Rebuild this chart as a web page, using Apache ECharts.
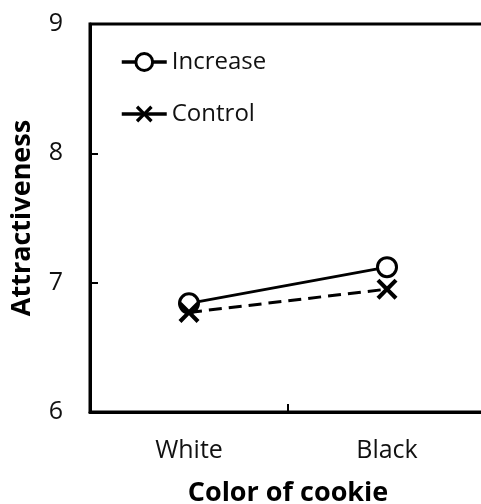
<!DOCTYPE html>
<html>
<head>
<meta charset="utf-8">
<script src="https://cdn.jsdelivr.net/npm/echarts@6/dist/echarts.min.js"></script>
<style>
  html, body { margin: 0; padding: 0; background: #fff; }
  #chart { width: 481px; height: 504px; }
</style>
</head>
<body>
<div id="chart"></div>
<script>
// data
var categories = ['White', 'Black'];
var increaseVals = [6.84, 7.12];
var controlVals = [6.77, 6.95];
var yTicks = [6, 7, 8, 9];

// filled "x" so it stays bold at any size
var crossPath = 'path://M0,1.4L1.4,0L5,3.6L8.6,0L10,1.4L6.4,5L10,8.6L8.6,10L5,6.4L1.4,10L0,8.6L3.6,5Z';
var ink = '#111';
var font = '"Open Sans", "Noto Sans", sans-serif';

var chart = echarts.init(document.getElementById('chart'));

var option = {
  animation: false,
  backgroundColor: '#fff',
  textStyle: { fontFamily: font, color: ink },
  grid: {
    left: 90, top: 24, width: 396, height: 388,
    containLabel: false,
    outerBoundsMode: 'none',
    show: true, borderColor: '#000', borderWidth: 3, backgroundColor: 'transparent'
  },
  legend: {
    orient: 'vertical',
    left: 120, top: 50,
    padding: 0,
    itemWidth: 45, itemHeight: 21, itemGap: 28,
    textStyle: { fontFamily: font, fontSize: 24, color: ink },
    lineStyle: { width: 3.5 },
    itemStyle: { borderWidth: 3 },
    data: [
      { name: 'Increase' },
      { name: 'Control', lineStyle: { type: 'solid', width: 3.5 }, itemStyle: { borderWidth: 0 } }
    ]
  },
  xAxis: {
    type: 'category',
    data: categories,
    boundaryGap: true,
    name: 'Color of cookie',
    nameLocation: 'middle',
    nameGap: 68,
    nameTextStyle: { fontFamily: font, fontSize: 27, fontWeight: 'bold', color: '#000' },
    axisLine: { lineStyle: { color: '#000', width: 3 } },
    axisTick: { show: true, inside: true, length: 8, lineStyle: { color: '#000', width: 2 } },
    axisLabel: { fontFamily: font, fontSize: 25, color: ink, margin: 26 },
    splitLine: { show: false }
  },
  yAxis: {
    type: 'value',
    min: yTicks[0],
    max: yTicks[yTicks.length - 1],
    interval: 1,
    name: 'Attractiveness',
    nameLocation: 'middle',
    nameGap: 54,
    nameTextStyle: { fontFamily: font, fontSize: 27, fontWeight: 'bold', color: '#000' },
    axisLine: { show: true, lineStyle: { color: '#000', width: 3 } },
    axisTick: { show: true, inside: true, length: 8, lineStyle: { color: '#000', width: 2 } },
    axisLabel: { fontFamily: font, fontSize: 25, color: ink, margin: 27 },
    splitLine: { show: false }
  },
  series: [
    {
      name: 'Increase',
      type: 'line',
      data: increaseVals,
      symbol: 'circle',
      symbolSize: 19,
      lineStyle: { color: '#000', width: 3, type: 'solid' },
      itemStyle: { color: '#fff', borderColor: '#000', borderWidth: 3 },
      z: 2
    },
    {
      name: 'Control',
      type: 'line',
      data: controlVals,
      symbol: crossPath,
      symbolSize: 21,
      lineStyle: { color: '#000', width: 3, type: [13, 7] },
      itemStyle: { color: '#000', borderWidth: 0 },
      z: 3
    }
  ]
};

chart.setOption(option);
</script>
</body>
</html>
